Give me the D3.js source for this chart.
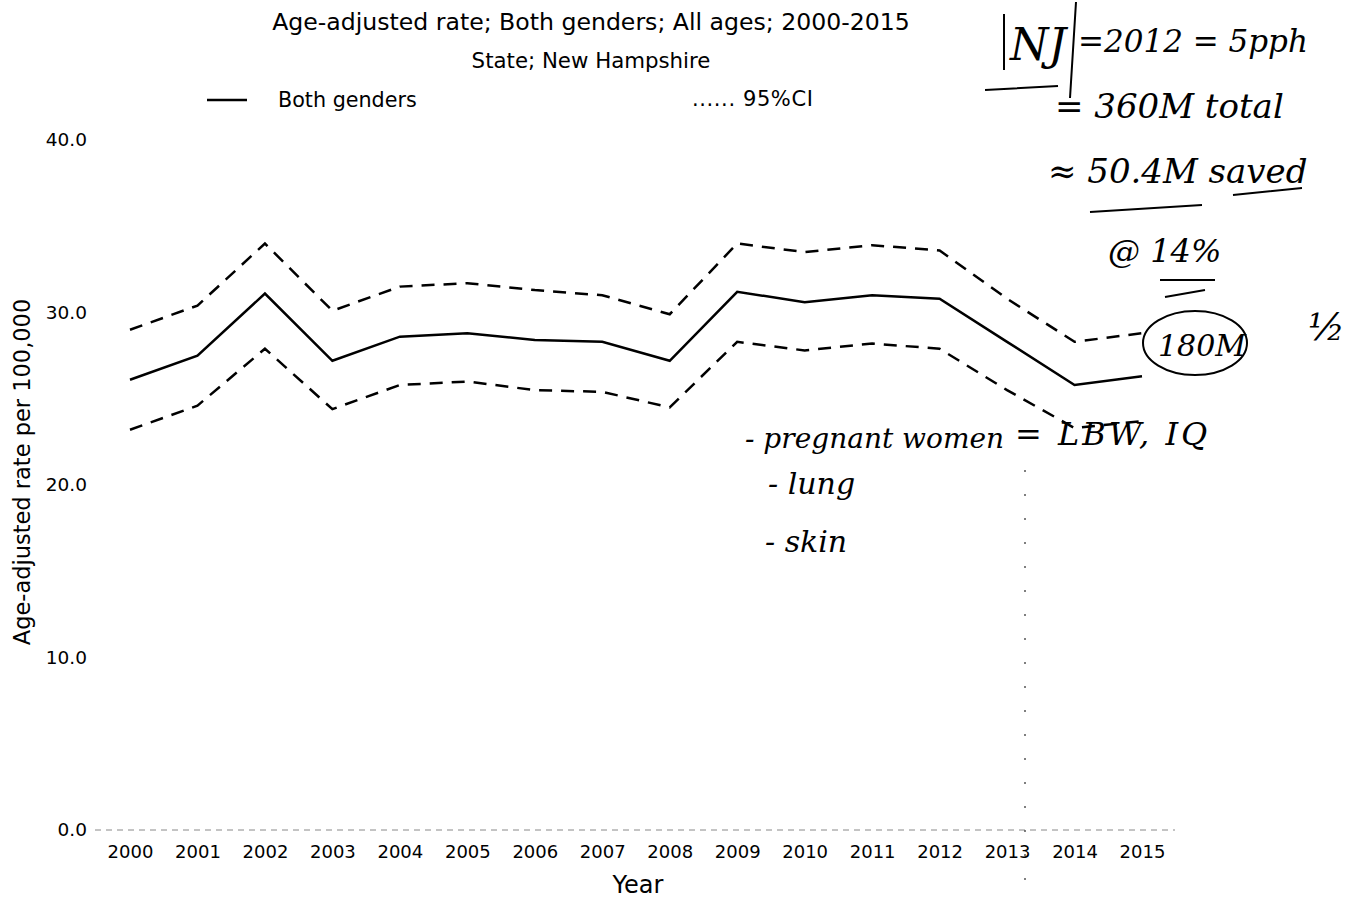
<!DOCTYPE html>
<html>
<head>
<meta charset="utf-8">
<script src="https://cdn.jsdelivr.net/npm/d3@7"></script>
<style>
  body { margin: 0; background: #fff; }
  text { font-family: "DejaVu Sans", sans-serif; fill: #000; }
  .note { font-family: "DejaVu Serif", serif; font-style: italic; }
</style>
</head>
<body>
<div id="chart"></div>
<script>
const years = [2000, 2001, 2002, 2003, 2004, 2005, 2006, 2007, 2008, 2009, 2010, 2011, 2012, 2013, 2014, 2015];
const rate  = [26.1, 27.5, 31.1, 27.2, 28.6, 28.8, 28.4, 28.3, 27.2, 31.2, 30.6, 31.0, 30.8, 28.3, 25.8, 26.3];
const upper = [29.0, 30.4, 34.0, 30.1, 31.5, 31.7, 31.3, 31.0, 29.9, 34.0, 33.5, 33.9, 33.6, 30.8, 28.3, 28.8];
const lower = [23.2, 24.6, 27.9, 24.4, 25.8, 26.0, 25.5, 25.4, 24.5, 28.3, 27.8, 28.2, 27.9, 25.5, 23.3, 23.7];
const yTicks = [0, 10, 20, 30, 40];

const width = 1347, height = 901;

let svg = d3.select("#chart")
    .append("svg")
    .attr("width", width)
    .attr("height", height);

let x = d3.scalePoint()
    .domain(years)
    .range([130, 1142]);

let y = d3.scaleLinear()
    .domain([0, 40])
    .range([830, 140]);

// titles
svg.append("text")
    .attr("x", 591).attr("y", 30)
    .attr("text-anchor", "middle")
    .style("font-size", "23.6px")
    .text("Age-adjusted rate; Both genders; All ages; 2000-2015");

svg.append("text")
    .attr("x", 591).attr("y", 68)
    .attr("text-anchor", "middle")
    .style("font-size", "21.3px")
    .text("State; New Hampshire");

// legend
svg.append("line")
    .attr("x1", 207).attr("x2", 247)
    .attr("y1", 100).attr("y2", 100)
    .attr("stroke", "black")
    .attr("stroke-width", 2.5);

svg.append("text")
    .attr("x", 278).attr("y", 107)
    .style("font-size", "20.7px")
    .text("Both genders");

svg.append("text")
    .attr("x", 692).attr("y", 106)
    .style("font-size", "21px")
    .style("letter-spacing", "0.6px")
    .text("...... 95%CI");

// baseline (faint dotted)
svg.append("line")
    .attr("x1", 95).attr("x2", 1175)
    .attr("y1", y(0)).attr("y2", y(0))
    .attr("stroke", "#888")
    .attr("stroke-width", 1)
    .attr("stroke-dasharray", "6,5");

// y axis
let yAxis = d3.axisLeft(y)
    .tickValues(yTicks)
    .tickFormat(d3.format(".1f"))
    .tickSize(0)
    .tickPadding(0);

let gy = svg.append("g")
    .attr("transform", "translate(87,0)")
    .call(yAxis);
gy.select(".domain").remove();
gy.selectAll("text")
    .style("font-size", "18.5px")
    .style("font-family", "\"DejaVu Sans\", sans-serif");

// x axis
let xAxis = d3.axisBottom(x)
    .tickSize(0)
    .tickPadding(0);

let gx = svg.append("g")
    .attr("transform", "translate(0,845)")
    .call(xAxis);
gx.select(".domain").remove();
gx.selectAll("text")
    .style("font-size", "18px")
    .style("font-family", "\"DejaVu Sans\", sans-serif");

svg.append("text")
    .attr("x", 638).attr("y", 893)
    .attr("text-anchor", "middle")
    .style("font-size", "24px")
    .text("Year");

svg.append("text")
    .attr("transform", "translate(30,472) rotate(-90)")
    .attr("text-anchor", "middle")
    .style("font-size", "22.5px")
    .text("Age-adjusted rate per 100,000");

// lines
let line = d3.line()
    .x(function(d, i) { return x(years[i]); })
    .y(function(d) { return y(d); });

svg.append("path")
    .datum(upper)
    .attr("d", line)
    .attr("fill", "none")
    .attr("stroke", "black")
    .attr("stroke-width", 2.5)
    .attr("stroke-dasharray", "13,9");

svg.append("path")
    .datum(lower)
    .attr("d", line)
    .attr("fill", "none")
    .attr("stroke", "black")
    .attr("stroke-width", 2.5)
    .attr("stroke-dasharray", "13,9");

svg.append("path")
    .datum(rate)
    .attr("d", line)
    .attr("fill", "none")
    .attr("stroke", "black")
    .attr("stroke-width", 2.5);

// handwritten notes
let notes = svg.append("g").attr("class", "notes");

notes.append("path")
    .attr("d", "M1004,14 L1004,70 M1076,2 L1070,98 M985,90 L1058,86")
    .attr("fill", "none").attr("stroke", "black").attr("stroke-width", 2);

let noteText = [
    {t: "NJ", x: 1010, y: 60, s: 44, ls: 0},
    {t: "=2012 = 5pph", x: 1078, y: 52, s: 31, ls: 0},
    {t: "= 360M total", x: 1055, y: 118, s: 34, ls: 0},
    {t: "≈ 50.4M saved", x: 1048, y: 183, s: 34, ls: 0},
    {t: "@ 14%", x: 1108, y: 262, s: 32, ls: 0},
    {t: "180M", x: 1158, y: 356, s: 30, ls: 0},
    {t: "½", x: 1308, y: 340, s: 38, ls: 0},
    {t: "- pregnant women", x: 745, y: 448, s: 28, ls: 0},
    {t: "= LBW, IQ", x: 1015, y: 445, s: 32, ls: 3},
    {t: "- lung", x: 768, y: 494, s: 30, ls: 0},
    {t: "- skin", x: 765, y: 552, s: 30, ls: 0}
];

notes.selectAll("text")
    .data(noteText)
    .enter()
    .append("text")
    .attr("class", "note")
    .attr("x", function(d) { return d.x; })
    .attr("y", function(d) { return d.y; })
    .style("font-size", function(d) { return d.s + "px"; })
    .style("letter-spacing", function(d) { return d.ls + "px"; })
    .text(function(d) { return d.t; });

notes.append("path")
    .attr("d", "M1090,212 L1202,205 M1233,195 L1302,188 M1160,280 L1215,280 M1165,297 L1205,290")
    .attr("fill", "none").attr("stroke", "black").attr("stroke-width", 2);

notes.append("ellipse")
    .attr("cx", 1195).attr("cy", 343)
    .attr("rx", 52).attr("ry", 32)
    .attr("fill", "none").attr("stroke", "black").attr("stroke-width", 2);

// faint scan dots
svg.append("line")
    .attr("x1", 1025).attr("x2", 1025)
    .attr("y1", 470).attr("y2", 900)
    .attr("stroke", "#555")
    .attr("stroke-width", 1.5)
    .attr("stroke-dasharray", "2,22");
</script>
</body>
</html>
